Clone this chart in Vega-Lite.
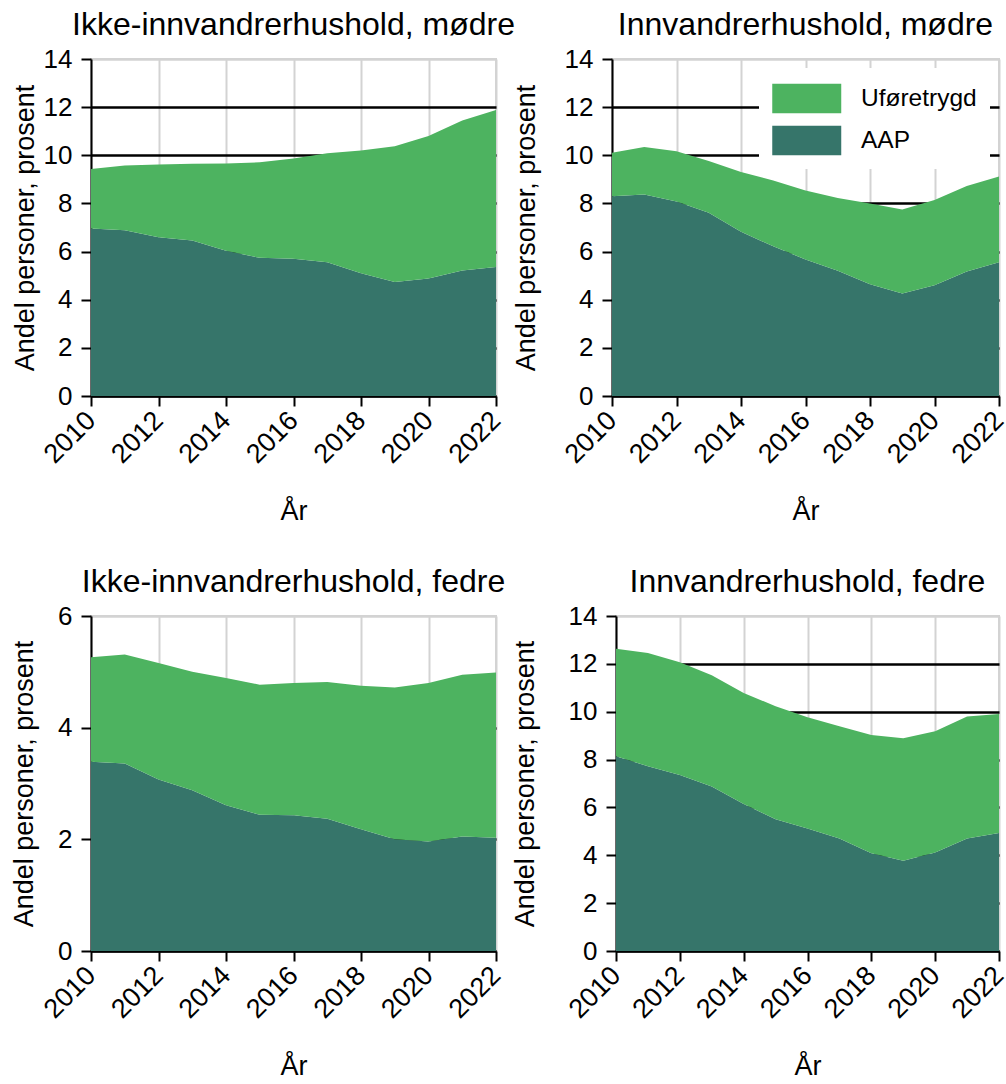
{
  "$schema": "https://vega.github.io/schema/vega-lite/v6.json",
  "padding": {"left": 9, "top": 8, "right": 2, "bottom": 2},
  "background": "white",
  "config": {
    "font": "Liberation Sans",
    "view": {"stroke": "#d3d3d3", "strokeWidth": 2},
    "title": {"fontSize": 32, "fontWeight": "normal", "font": "Liberation Sans", "color": "black", "offset": 4},
    "axis": {
      "labelFont": "Liberation Sans", "titleFont": "Liberation Sans",
      "labelFontSize": 26, "titleFontSize": 27, "titleFontWeight": "normal",
      "labelColor": "black", "titleColor": "black",
      "domainColor": "black", "domainWidth": 2,
      "tickColor": "black", "tickWidth": 2, "tickSize": 10,
      "labelPadding": 9, "gridWidth": 2.5
    },
    "axisY": {"zindex": 1},
    "axisX": {"zindex": 0, "gridColor": "#d3d3d3", "gridWidth": 2, "labelAngle": -45, "labelAlign": "right", "labelBaseline": "middle", "labelPadding": 10, "labelFontSize": 27, "titlePadding": 31}
  },
  "datasets": {
    "d": [
      {"p": 1, "year": 2010, "AAP": 6.96, "Uføretrygd": 2.47},
      {"p": 1, "year": 2011, "AAP": 6.89, "Uføretrygd": 2.69},
      {"p": 1, "year": 2012, "AAP": 6.60, "Uføretrygd": 3.02},
      {"p": 1, "year": 2013, "AAP": 6.46, "Uføretrygd": 3.19},
      {"p": 1, "year": 2014, "AAP": 6.03, "Uføretrygd": 3.63},
      {"p": 1, "year": 2015, "AAP": 5.74, "Uføretrygd": 3.97},
      {"p": 1, "year": 2016, "AAP": 5.70, "Uføretrygd": 4.17},
      {"p": 1, "year": 2017, "AAP": 5.56, "Uføretrygd": 4.52},
      {"p": 1, "year": 2018, "AAP": 5.10, "Uføretrygd": 5.10},
      {"p": 1, "year": 2019, "AAP": 4.74, "Uføretrygd": 5.64},
      {"p": 1, "year": 2020, "AAP": 4.88, "Uføretrygd": 5.92},
      {"p": 1, "year": 2021, "AAP": 5.21, "Uføretrygd": 6.23},
      {"p": 1, "year": 2022, "AAP": 5.36, "Uføretrygd": 6.52},
      {"p": 2, "year": 2010, "AAP": 8.30, "Uføretrygd": 1.81},
      {"p": 2, "year": 2011, "AAP": 8.37, "Uføretrygd": 1.97},
      {"p": 2, "year": 2012, "AAP": 8.08, "Uføretrygd": 2.09},
      {"p": 2, "year": 2013, "AAP": 7.61, "Uføretrygd": 2.15},
      {"p": 2, "year": 2014, "AAP": 6.82, "Uføretrygd": 2.49},
      {"p": 2, "year": 2015, "AAP": 6.22, "Uføretrygd": 2.73},
      {"p": 2, "year": 2016, "AAP": 5.67, "Uføretrygd": 2.87},
      {"p": 2, "year": 2017, "AAP": 5.20, "Uføretrygd": 3.03},
      {"p": 2, "year": 2018, "AAP": 4.64, "Uføretrygd": 3.36},
      {"p": 2, "year": 2019, "AAP": 4.26, "Uføretrygd": 3.49},
      {"p": 2, "year": 2020, "AAP": 4.60, "Uføretrygd": 3.54},
      {"p": 2, "year": 2021, "AAP": 5.17, "Uføretrygd": 3.55},
      {"p": 2, "year": 2022, "AAP": 5.56, "Uføretrygd": 3.56},
      {"p": 3, "year": 2010, "AAP": 3.39, "Uføretrygd": 1.87},
      {"p": 3, "year": 2011, "AAP": 3.36, "Uføretrygd": 1.95},
      {"p": 3, "year": 2012, "AAP": 3.07, "Uføretrygd": 2.09},
      {"p": 3, "year": 2013, "AAP": 2.88, "Uføretrygd": 2.12},
      {"p": 3, "year": 2014, "AAP": 2.61, "Uføretrygd": 2.28},
      {"p": 3, "year": 2015, "AAP": 2.44, "Uføretrygd": 2.33},
      {"p": 3, "year": 2016, "AAP": 2.43, "Uføretrygd": 2.37},
      {"p": 3, "year": 2017, "AAP": 2.37, "Uføretrygd": 2.45},
      {"p": 3, "year": 2018, "AAP": 2.18, "Uføretrygd": 2.57},
      {"p": 3, "year": 2019, "AAP": 2.00, "Uføretrygd": 2.72},
      {"p": 3, "year": 2020, "AAP": 1.96, "Uføretrygd": 2.84},
      {"p": 3, "year": 2021, "AAP": 2.05, "Uføretrygd": 2.90},
      {"p": 3, "year": 2022, "AAP": 2.03, "Uføretrygd": 2.96},
      {"p": 4, "year": 2010, "AAP": 8.14, "Uføretrygd": 4.49},
      {"p": 4, "year": 2011, "AAP": 7.72, "Uføretrygd": 4.73},
      {"p": 4, "year": 2012, "AAP": 7.36, "Uføretrygd": 4.71},
      {"p": 4, "year": 2013, "AAP": 6.87, "Uføretrygd": 4.65},
      {"p": 4, "year": 2014, "AAP": 6.14, "Uføretrygd": 4.64},
      {"p": 4, "year": 2015, "AAP": 5.51, "Uføretrygd": 4.72},
      {"p": 4, "year": 2016, "AAP": 5.12, "Uføretrygd": 4.65},
      {"p": 4, "year": 2017, "AAP": 4.70, "Uføretrygd": 4.69},
      {"p": 4, "year": 2018, "AAP": 4.09, "Uføretrygd": 4.94},
      {"p": 4, "year": 2019, "AAP": 3.77, "Uføretrygd": 5.12},
      {"p": 4, "year": 2020, "AAP": 4.12, "Uføretrygd": 5.06},
      {"p": 4, "year": 2021, "AAP": 4.70, "Uføretrygd": 5.10},
      {"p": 4, "year": 2022, "AAP": 4.93, "Uføretrygd": 4.97}
    ]
  },
  "resolve": {"scale": {"color": "independent"}},
  "spacing": 39,
  "vconcat": [
    {
      "spacing": 116,
      "bounds": "flush",
      "resolve": {"scale": {"color": "independent"}},
      "hconcat": [
        {
          "width": 405, "height": 337,
          "title": "Ikke-innvandrerhushold, mødre",
          "data": {"name": "d"},
          "transform": [{"filter": "datum.p == 1"}, {"fold": ["AAP", "Uføretrygd"], "as": ["type", "value"]}],
          "mark": {"type": "area", "opacity": 1},
          "encoding": {
            "x": {"field": "year", "type": "quantitative", "scale": {"domain": [2010, 2022], "nice": false, "zero": false},
                  "axis": {"values": [2010, 2012, 2014, 2016, 2018, 2020, 2022], "format": "d", "title": "År"}},
            "y": {"field": "value", "type": "quantitative", "stack": "zero", "scale": {"domain": [0, 14], "nice": false},
                  "axis": {"values": [0, 2, 4, 6, 8, 10, 12, 14], "title": "Andel personer, prosent", "titlePadding": 4,
                           "gridColor": {"condition": {"test": "datum.value >= 14", "value": "#d3d3d3"}, "value": "black"}}},
            "color": {"field": "type", "type": "nominal", "scale": {"domain": ["Uføretrygd", "AAP"], "range": ["#4db360", "#36756a"]}, "legend": null},
            "order": {"field": "type", "sort": "ascending"}
          }
        },
        {
          "width": 387, "height": 337,
          "title": "Innvandrerhushold, mødre",
          "data": {"name": "d"},
          "transform": [{"filter": "datum.p == 2"}, {"fold": ["AAP", "Uføretrygd"], "as": ["type", "value"]}],
          "mark": {"type": "area", "opacity": 1},
          "encoding": {
            "x": {"field": "year", "type": "quantitative", "scale": {"domain": [2010, 2022], "nice": false, "zero": false},
                  "axis": {"values": [2010, 2012, 2014, 2016, 2018, 2020, 2022], "format": "d", "title": "År"}},
            "y": {"field": "value", "type": "quantitative", "stack": "zero", "scale": {"domain": [0, 14], "nice": false},
                  "axis": {"values": [0, 2, 4, 6, 8, 10, 12, 14], "title": "Andel personer, prosent", "titlePadding": 24,
                           "gridColor": {"condition": {"test": "datum.value >= 14", "value": "#d3d3d3"}, "value": "black"}}},
            "color": {"field": "type", "type": "nominal", "scale": {"domain": ["Uføretrygd", "AAP"], "range": ["#4db360", "#36756a"]},
                      "legend": {"title": null, "orient": "top-right", "offset": 9, "fillColor": "white", "padding": 13,
                                 "labelFontSize": 24.5, "labelFont": "Liberation Sans", "labelColor": "black",
                                 "symbolType": "M-1,-0.855H3V0.855H-1Z", "symbolSize": 1190, "symbolStrokeWidth": 0, "symbolOpacity": 1,
                                 "labelOffset": 54, "rowPadding": 9, "zindex": 2}},
            "order": {"field": "type", "sort": "ascending"}
          }
        }
      ]
    },
    {
      "spacing": 120,
      "bounds": "flush",
      "resolve": {"scale": {"color": "independent"}},
      "hconcat": [
        {
          "width": 405, "height": 335,
          "title": "Ikke-innvandrerhushold, fedre",
          "data": {"name": "d"},
          "transform": [{"filter": "datum.p == 3"}, {"fold": ["AAP", "Uføretrygd"], "as": ["type", "value"]}],
          "mark": {"type": "area", "opacity": 1},
          "encoding": {
            "x": {"field": "year", "type": "quantitative", "scale": {"domain": [2010, 2022], "nice": false, "zero": false},
                  "axis": {"values": [2010, 2012, 2014, 2016, 2018, 2020, 2022], "format": "d", "title": "År"}},
            "y": {"field": "value", "type": "quantitative", "stack": "zero", "scale": {"domain": [0, 6], "nice": false},
                  "axis": {"values": [0, 2, 4, 6], "title": "Andel personer, prosent", "titlePadding": 19,
                           "gridColor": {"condition": {"test": "datum.value >= 6", "value": "#d3d3d3"}, "value": "black"}}},
            "color": {"field": "type", "type": "nominal", "scale": {"domain": ["Uføretrygd", "AAP"], "range": ["#4db360", "#36756a"]}, "legend": null},
            "order": {"field": "type", "sort": "ascending"}
          }
        },
        {
          "width": 383, "height": 335,
          "title": "Innvandrerhushold, fedre",
          "data": {"name": "d"},
          "transform": [{"filter": "datum.p == 4"}, {"fold": ["AAP", "Uføretrygd"], "as": ["type", "value"]}],
          "mark": {"type": "area", "opacity": 1},
          "encoding": {
            "x": {"field": "year", "type": "quantitative", "scale": {"domain": [2010, 2022], "nice": false, "zero": false},
                  "axis": {"values": [2010, 2012, 2014, 2016, 2018, 2020, 2022], "format": "d", "title": "År"}},
            "y": {"field": "value", "type": "quantitative", "stack": "zero", "scale": {"domain": [0, 14], "nice": false},
                  "axis": {"values": [0, 2, 4, 6, 8, 10, 12, 14], "title": "Andel personer, prosent", "titlePadding": 29,
                           "gridColor": {"condition": {"test": "datum.value >= 14", "value": "#d3d3d3"}, "value": "black"}}},
            "color": {"field": "type", "type": "nominal", "scale": {"domain": ["Uføretrygd", "AAP"], "range": ["#4db360", "#36756a"]}, "legend": null},
            "order": {"field": "type", "sort": "ascending"}
          }
        }
      ]
    }
  ]
}
